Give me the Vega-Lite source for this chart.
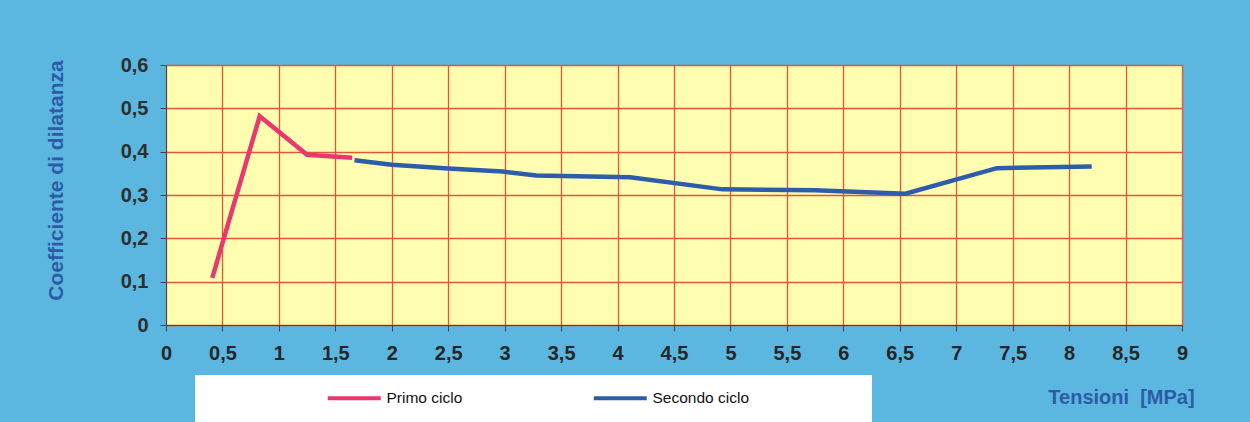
{
  "$schema": "https://vega.github.io/schema/vega-lite/v6.json",
  "width": 1016,
  "height": 260,
  "autosize": {"type": "none"},
  "padding": {"left": 166, "top": 65, "right": 68, "bottom": 97},
  "background": "#5BB6E0",
  "config": {
    "view": {"fill": "#FFFDB0", "stroke": "#555555", "strokeWidth": 1},
    "font": "Liberation Sans"
  },
  "data": {
    "values": [
      {"ciclo": "Primo ciclo", "tensione": 0.41, "coeff": 0.109},
      {"ciclo": "Primo ciclo", "tensione": 0.83, "coeff": 0.482},
      {"ciclo": "Primo ciclo", "tensione": 1.25, "coeff": 0.393},
      {"ciclo": "Primo ciclo", "tensione": 1.65, "coeff": 0.386},
      {"ciclo": "Secondo ciclo", "tensione": 1.67, "coeff": 0.38},
      {"ciclo": "Secondo ciclo", "tensione": 2.0, "coeff": 0.37},
      {"ciclo": "Secondo ciclo", "tensione": 2.5, "coeff": 0.361},
      {"ciclo": "Secondo ciclo", "tensione": 2.98, "coeff": 0.354},
      {"ciclo": "Secondo ciclo", "tensione": 3.28, "coeff": 0.345},
      {"ciclo": "Secondo ciclo", "tensione": 4.11, "coeff": 0.341},
      {"ciclo": "Secondo ciclo", "tensione": 4.93, "coeff": 0.313},
      {"ciclo": "Secondo ciclo", "tensione": 5.75, "coeff": 0.311},
      {"ciclo": "Secondo ciclo", "tensione": 6.55, "coeff": 0.303},
      {"ciclo": "Secondo ciclo", "tensione": 7.36, "coeff": 0.362},
      {"ciclo": "Secondo ciclo", "tensione": 8.2, "coeff": 0.366}
    ]
  },
  "mark": {"type": "line", "strokeWidth": 4.5},
  "encoding": {
    "x": {
      "field": "tensione",
      "type": "quantitative",
      "scale": {"domain": [0, 9], "nice": false, "zero": false},
      "axis": {
        "values": [0, 0.5, 1, 1.5, 2, 2.5, 3, 3.5, 4, 4.5, 5, 5.5, 6, 6.5, 7, 7.5, 8, 8.5, 9],
        "labelExpr": "replace(format(datum.value, '~g'), '.', ',')",
        "labelFontSize": 20,
        "labelFontWeight": "bold",
        "labelColor": "#262626",
        "labelPadding": 12,
        "labelFlush": false,
        "labelOverlap": false,
        "tickSize": 6,
        "tickColor": "#444444",
        "domainColor": "#444444",
        "grid": true,
        "gridColor": "#E2553A",
        "gridWidth": 1.3,
        "title": "Tensioni\u00a0 [MPa]",
        "titleX": 955,
        "titleY": 72,
        "titleAlign": "center",
        "titleBaseline": "middle",
        "titleFontSize": 20,
        "titleFontWeight": "bold",
        "titleColor": "#2C5CA6"
      }
    },
    "y": {
      "field": "coeff",
      "type": "quantitative",
      "scale": {"domain": [0, 0.6], "nice": false},
      "axis": {
        "values": [0, 0.1, 0.2, 0.3, 0.4, 0.5, 0.6],
        "labelExpr": "replace(format(datum.value, '~g'), '.', ',')",
        "labelFontSize": 20,
        "labelFontWeight": "bold",
        "labelColor": "#2E2E2E",
        "labelPadding": 12,
        "labelFlush": false,
        "labelOverlap": false,
        "tickSize": 6,
        "tickColor": "#444444",
        "domainColor": "#444444",
        "grid": true,
        "gridColor": "#E2553A",
        "gridWidth": 1.3,
        "title": "Coefficiente di dilatanza",
        "titleX": -110,
        "titleY": 115,
        "titleAngle": -90,
        "titleAlign": "center",
        "titleBaseline": "middle",
        "titleFontSize": 21,
        "titleFontWeight": "bold",
        "titleColor": "#2C5CA6"
      }
    },
    "color": {
      "field": "ciclo",
      "type": "nominal",
      "scale": {"domain": ["Primo ciclo", "Secondo ciclo"], "range": ["#E8386E", "#2D5DAA"]},
      "legend": {
        "orient": "none",
        "legendX": 29,
        "legendY": 310,
        "direction": "horizontal",
        "title": null,
        "fillColor": "#FFFFFF",
        "padding": 15,
        "symbolType": "M-5.3,0H5.3",
        "symbolSize": 100,
        "symbolStrokeWidth": 4,
        "symbolOffset": 136.5,
        "labelOffset": 24.5,
        "columnPadding": 13,
        "labelFontSize": 15.5,
        "labelLimit": 400,
        "labelColor": "#111111",
        "labelFont": "Liberation Sans",
        "labelExpr": "datum.label == 'Secondo ciclo' ? datum.label + '\u00a0\u00a0\u00a0\u00a0\u00a0\u00a0\u00a0\u00a0\u00a0\u00a0\u00a0\u00a0\u00a0\u00a0\u00a0\u00a0\u00a0\u00a0\u00a0\u00a0\u00a0\u00a0\u00a0\u00a0\u00a0\u200b' : datum.label"
      }
    }
  }
}
